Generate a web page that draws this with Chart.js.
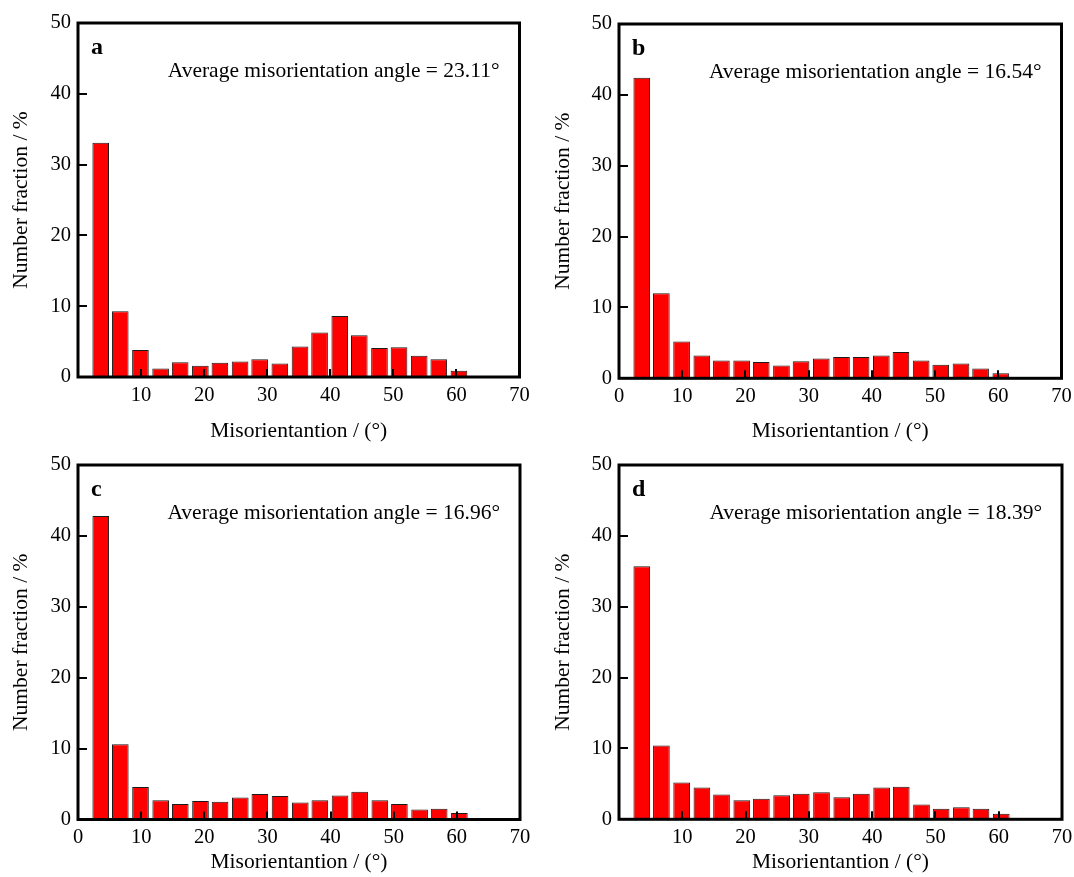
<!DOCTYPE html>
<html>
<head>
<meta charset="utf-8">
<script src="https://cdn.jsdelivr.net/npm/chart.js@4.4.1/dist/chart.umd.min.js"></script>
<style>
  html, body { margin: 0; padding: 0; background: #fff; }
  #wrap { position: relative; width: 1074px; height: 877px; overflow: hidden; }
  #wrap canvas { position: absolute; }
</style>
</head>
<body>
<div id="wrap">
  <canvas id="cvA" width="537" height="445" style="left:0;top:0"></canvas>
  <canvas id="cvB" width="537" height="445" style="left:537px;top:0"></canvas>
  <canvas id="cvC" width="537" height="432" style="left:0;top:445px"></canvas>
  <canvas id="cvD" width="537" height="432" style="left:537px;top:445px"></canvas>
</div>
<script>
  'use strict';

  /* ── 데이터: 결정립계 방위차 분포 (2°~62°, 19 구간) ── */
  const binCenters = [3.6, 6.7, 9.9, 13.1, 16.2, 19.4, 22.5, 25.7, 28.8, 32.0,
                      35.2, 38.3, 41.5, 44.6, 47.8, 50.9, 54.1, 57.2, 60.4];

  const fractionA = [33.1, 9.3, 3.8, 1.2, 2.1, 1.6, 2.0, 2.2, 2.5, 1.9,
                     4.3, 6.3, 8.6, 5.9, 4.1, 4.2, 3.0, 2.5, 0.9];
  const fractionB = [42.4, 12.0, 5.2, 3.2, 2.5, 2.5, 2.3, 1.8, 2.4, 2.8,
                     3.0, 3.0, 3.2, 3.7, 2.5, 1.9, 2.1, 1.4, 0.7];
  const fractionC = [42.8, 10.6, 4.6, 2.7, 2.2, 2.6, 2.5, 3.1, 3.6, 3.3,
                     2.4, 2.7, 3.4, 3.9, 2.7, 2.2, 1.4, 1.5, 0.9];
  const fractionD = [35.7, 10.4, 5.2, 4.5, 3.5, 2.7, 2.9, 3.4, 3.6, 3.8,
                     3.1, 3.6, 4.5, 4.6, 2.1, 1.5, 1.7, 1.5, 0.8];

  const panelLetters = ['a', 'b', 'c', 'd'];
  const avgAngles    = ['23.11', '16.54', '16.96', '18.39'];

  const xTicks = [0, 10, 20, 30, 40, 50, 60, 70];
  const yTicks = [0, 10, 20, 30, 40, 50];

  const SERIF = '"Liberation Serif", "Times New Roman", serif';
  Chart.defaults.font.family = SERIF;
  Chart.defaults.color = '#000';

  /* ── 테두리 + 안쪽 눈금 + 패널 라벨 ── */
  const framePlugin = {
    id: 'frame',
    afterDatasetsDraw(chart, args, opts) {
      const { ctx, chartArea: a, scales } = chart;
      ctx.save();
      ctx.strokeStyle = '#000';

      // 안쪽 눈금 (y: 왼쪽, x: 아래)
      ctx.lineWidth = 2;
      ctx.beginPath();
      yTicks.forEach(v => {
        const py = Math.round(scales.y.getPixelForValue(v));
        ctx.moveTo(a.left, py); ctx.lineTo(a.left + 9, py);
      });
      xTicks.forEach(v => {
        if (v === 0 || v === 70) return;
        const px = Math.round(scales.x.getPixelForValue(v));
        ctx.moveTo(px, a.bottom); ctx.lineTo(px, a.bottom - 8);
      });
      ctx.stroke();

      ctx.lineWidth = 3;
      ctx.strokeRect(a.left, a.top, a.right - a.left, a.bottom - a.top);

      ctx.fillStyle = '#000';
      ctx.textBaseline = 'alphabetic';
      ctx.font = 'bold 24px ' + SERIF;
      ctx.textAlign = 'left';
      ctx.fillText(opts.letter, a.left + 13, a.top + 31);
      ctx.font = '21.5px ' + SERIF;
      ctx.textAlign = 'right';
      ctx.fillText('Average misorientation angle = ' + opts.avg + '°', a.right - 20, a.top + 54);
      ctx.restore();
    }
  };

  function makePanel(id, values, idx, box) {
    const ctx = document.getElementById(id);
    return new Chart(ctx, {
      type: 'bar',
      data: {
        datasets: [{
          data: binCenters.map((x, i) => ({ x, y: values[i] })),
          backgroundColor: '#ff0000',
          borderColor: '#1a1a1a',
          borderWidth: 1,
          borderSkipped: false,
          barPercentage: 0.85,
          categoryPercentage: 1.0,
        }],
      },
      options: {
        responsive: false,
        animation: false,
        events: [],
        layout: { padding: { top: box.top, right: box.right, left: 0, bottom: 0 } },
        plugins: {
          legend: { display: false },
          tooltip: { enabled: false },
          frame: { letter: panelLetters[idx], avg: avgAngles[idx] },
        },
        scales: {
          x: {
            type: 'linear', min: 0, max: 70, offset: false,
            grid: { display: false, drawTicks: false, offset: false },
            border: { display: false },
            afterBuildTicks: s => { s.ticks = xTicks.map(v => ({ value: v })); },
            afterFit: s => { s.height = box.xh; s.paddingLeft = 0; s.paddingRight = 0; },
            ticks: {
              padding: 6,
              font: { size: 20.5 },
              callback: v => (v === 0 && !box.zero) ? '' : String(v),
            },
            title: {
              display: true,
              text: 'Misorientantion / (°)',
              font: { size: 21.5 },
              padding: { top: 0, bottom: box.tb },
            },
          },
          y: {
            min: 0, max: 50,
            grid: { display: false, drawTicks: false },
            border: { display: false },
            afterBuildTicks: s => { s.ticks = yTicks.map(v => ({ value: v })); },
            afterFit: s => { s.width = box.yw; s.paddingTop = 0; s.paddingBottom = 0; },
            ticks: { padding: 7, font: { size: 20.5 } },
            title: {
              display: true,
              text: 'Number fraction / %',
              font: { size: 21.5 },
              padding: { top: box.tl, bottom: 0 },
            },
          },
        },
      },
      plugins: [framePlugin],
    });
  }

  makePanel('cvA', fractionA, 0, { top: 23, right: 17.5, yw: 78, xh: 68, tb: 1, tl: 8, zero: false });
  makePanel('cvB', fractionB, 1, { top: 24, right: 12.5, yw: 82, xh: 66.7, tb: 1, tl: 13, zero: true });
  makePanel('cvC', fractionC, 2, { top: 20, right: 17, yw: 78, xh: 57.5, tb: 2, tl: 8, zero: true });
  makePanel('cvD', fractionD, 3, { top: 20, right: 12, yw: 82, xh: 57.7, tb: 2, tl: 13, zero: false });
</script>
</body>
</html>
